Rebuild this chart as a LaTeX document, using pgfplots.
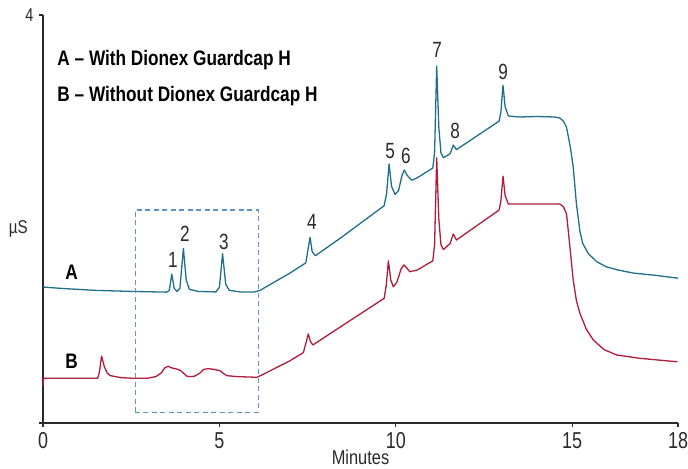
\documentclass[border=0pt]{standalone}
\usepackage{fontspec}
\setmainfont[FakeStretch=0.82]{Liberation Sans}
\newfontfamily\numfont[FakeStretch=0.78]{Liberation Sans}
\usepackage{pgfplots}
\pgfplotsset{compat=1.18}
\definecolor{teal}{HTML}{1F6F8B}
\definecolor{crim}{HTML}{B01C3A}
\definecolor{boxblue}{HTML}{5B96C4}
\definecolor{txt}{HTML}{2A2A2A}
\begin{document}
\begin{tikzpicture}
\begin{axis}[
  at={(0,0)}, anchor=south west,
  scale only axis, width=635bp, height=408bp,
  xmin=0, xmax=18, ymin=0, ymax=4,
  axis x line=bottom, axis y line=left,
  axis line style={-, draw=txt, line width=1.2bp},
  xtick={0,5,10,15,18},
  ytick={0,4}, yticklabels={,4},
  tick align=outside,
  major tick length=4bp,
  tick style={draw=txt, line width=1.1bp},
  /pgf/number format/assume math mode=true,
  xticklabel style={font=\numfont\fontsize{23bp}{25bp}\selectfont, text=txt, yshift=-2bp},
  yticklabel style={font=\numfont\fontsize{18.5bp}{20bp}\selectfont, text=txt, xshift=-2bp},
  xlabel={Minutes},
  xlabel style={font=\fontsize{20bp}{22bp}\selectfont, text=txt, inner sep=0pt, at={(axis description cs:0.5,-0.084)}, anchor=center},
  ylabel={µS},
  ylabel style={font=\fontsize{18.5bp}{20bp}\selectfont, text=txt, rotate=-90, at={(axis description cs:-0.039,0.475)}, anchor=center},
  clip=false,
]
\addplot[teal, line width=1.3bp, line join=round] coordinates {
(0,1.333) (0.5,1.32) (1.5,1.30) (2.5,1.29) (3.5,1.283) (3.58,1.30) (3.65,1.46) (3.72,1.32)
(3.80,1.29) (3.88,1.32) (3.98,1.71) (4.06,1.40) (4.15,1.31) (4.4,1.29) (4.9,1.285) (5.0,1.33)
(5.09,1.66) (5.18,1.36) (5.28,1.30) (5.6,1.285) (6.0,1.285) (6.15,1.30) (7.0,1.47) (7.45,1.57)
(7.52,1.72) (7.57,1.82) (7.63,1.68) (7.72,1.64) (8.42,1.81) (9.67,2.13) (9.74,2.25) (9.81,2.54)
(9.88,2.32) (9.98,2.24) (10.08,2.28) (10.17,2.42) (10.24,2.48) (10.32,2.43) (10.45,2.38)
(10.59,2.40) (11.05,2.50) (11.10,2.65) (11.16,3.50) (11.22,2.9) (11.28,2.65) (11.35,2.60)
(11.54,2.64) (11.63,2.725) (11.72,2.68) (12.93,2.96) (12.98,3.05) (13.04,3.31) (13.10,3.10)
(13.19,3.01) (13.5,3.00) (14.0,3.005) (14.5,3.00) (14.65,2.99) (14.75,2.96) (14.84,2.90)
(14.95,2.70) (15.03,2.51) (15.12,2.15) (15.22,1.88) (15.3,1.76) (15.46,1.66) (15.7,1.58)
(15.98,1.53) (16.3,1.50) (16.73,1.47) (17.3,1.45) (18.0,1.42)
};
\addplot[crim, line width=1.3bp, line join=round] coordinates {
(0,0.36) (0.02,0.438) (1.55,0.438) (1.60,0.50) (1.66,0.657) (1.74,0.55) (1.82,0.49) (1.90,0.465)
(2.2,0.445) (2.56,0.438) (2.94,0.438) (3.2,0.455) (3.35,0.49) (3.45,0.54) (3.55,0.556) (3.65,0.54)
(3.79,0.529) (3.90,0.515) (3.98,0.49) (4.07,0.46) (4.17,0.454) (4.30,0.46) (4.45,0.49) (4.55,0.525)
(4.69,0.533) (4.85,0.525) (5.02,0.513) (5.12,0.485) (5.21,0.464) (5.5,0.455) (6.06,0.448) (6.2,0.47)
(7.0,0.61) (7.38,0.69) (7.45,0.78) (7.52,0.873) (7.58,0.80) (7.65,0.765) (8.42,0.94) (9.67,1.222)
(9.73,1.35) (9.79,1.59) (9.86,1.40) (9.93,1.336) (10.03,1.38) (10.15,1.51) (10.23,1.55) (10.31,1.52)
(10.40,1.483) (10.61,1.50) (11.05,1.59) (11.10,1.75) (11.16,2.60) (11.22,2.0) (11.28,1.75) (11.35,1.70)
(11.54,1.76) (11.63,1.853) (11.72,1.794) (12.93,2.088) (12.98,2.18) (13.04,2.42) (13.10,2.23)
(13.19,2.147) (14.65,2.147) (14.75,2.12) (14.84,2.05) (14.9,1.85) (15.03,1.40) (15.12,1.20)
(15.22,1.075) (15.4,0.92) (15.6,0.814) (15.9,0.72) (16.26,0.667) (16.92,0.634) (17.98,0.60)
};
\draw[boxblue, line width=1.1bp, dash pattern=on 5bp off 3.5bp] (axis cs:2.61,0.105) rectangle (axis cs:6.10,2.088);
\begin{scope}[every node/.style={font=\numfont\fontsize{22bp}{24bp}\selectfont, text=txt, inner sep=0pt}]
\node at (axis cs:3.68,1.60) {1};
\node at (axis cs:4.02,1.85) {2};
\node at (axis cs:5.13,1.78) {3};
\node at (axis cs:7.62,1.97) {4};
\node at (axis cs:9.84,2.67) {5};
\node at (axis cs:10.29,2.62) {6};
\node at (axis cs:11.17,3.66) {7};
\node at (axis cs:11.68,2.86) {8};
\node at (axis cs:13.04,3.44) {9};
\end{scope}
\begin{scope}[every node/.style={font=\bfseries\fontsize{21bp}{23bp}\selectfont, text=black, inner sep=0pt}]
\node at (axis cs:0.81,1.48) {A};
\node at (axis cs:0.81,0.61) {B};
\node[anchor=west] at (axis cs:0.405,3.56) {A – With Dionex Guardcap H};
\node[anchor=west] at (axis cs:0.405,3.206) {B – Without Dionex Guardcap H};
\end{scope}
\end{axis}
\pgfresetboundingbox
\path[use as bounding box] (-43bp,-46bp) rectangle (645bp,423bp);
\end{tikzpicture}
\end{document}
